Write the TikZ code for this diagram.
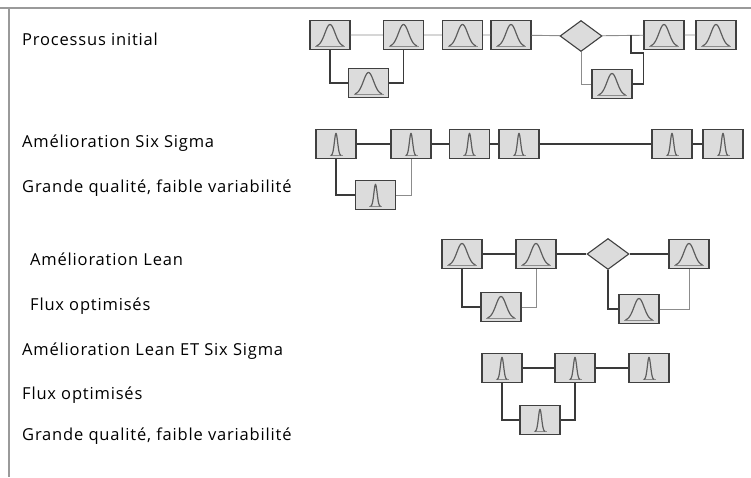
\documentclass[tikz,border=0pt]{standalone}
\usepackage{fontspec}
\setmainfont[LetterSpace=5]{Open Sans}
\usetikzlibrary{shapes.geometric}

\definecolor{boxfill}{HTML}{DCDCDC}
\definecolor{boxline}{HTML}{404040}
\definecolor{curvegrey}{HTML}{5E5E5E}
\definecolor{linkgrey}{HTML}{8C8C8C}
\definecolor{linkdark}{HTML}{3A3A3A}
\definecolor{framegrey}{HTML}{9A9A9A}

% bell curve inside a stage box: #1 = spread, #2 = half width
\newcommand{\bellpic}[2]{%
  \begin{scope}[shift={(path picture bounding box.center)}, x=1pt, y=-1pt]
    \draw[linkgrey, line width=0.8pt] (-#2-1.5,11.5) -- (#2+1.5,11.5);
    \draw[curvegrey, line width=1.2pt]
      plot[domain=-#2:#2, samples=41, smooth] ({\x}, {11.5-22*exp(-(\x/#1)^2)});
  \end{scope}}

\begin{document}
\begin{tikzpicture}[x=1pt, y=-1pt,% styles used in image code
stage/.style = {draw=boxline, fill=boxfill, line width=1.1pt,
                minimum width=40pt, minimum height=29pt,
                inner sep=0pt, node contents={}},
 wide/.style = {stage, path picture={\bellpic{7.2}{13.5}}},
narrow/.style = {stage, path picture={\bellpic{2.3}{5}}},
choice/.style = {diamond, draw=boxline, fill=boxfill, line width=1.1pt,
                 minimum width=42pt, minimum height=31pt,
                 inner sep=0pt, node contents={}},
  link/.style = {draw=linkgrey, line width=0.9pt},
 heavy/.style = {draw=linkdark, line width=1.4pt},
rowtext/.style = {anchor=base west, inner sep=0pt,
                 font=\fontsize{16.5}{18}\selectfont, text=black}
                    ]
	\useasboundingbox (0,0) rectangle (751,477);
	% frame
	\draw[framegrey, line width=1.2pt] (0,8) -- (751,8);
	\draw[framegrey, line width=1.2pt] (9,8) -- (9,477);

	% captions
	\node (t1) at (22,45)  [rowtext] {Processus initial};
	\node (t2) at (22,147) [rowtext] {Amélioration Six Sigma};
	\node (t3) at (22,192) [rowtext] {Grande qualité, faible variabilité};
	\node (t4) at (30,265) [rowtext] {Amélioration Lean};
	\node (t5) at (30,310) [rowtext] {Flux optimisés};
	\node (t6) at (22,355) [rowtext] {Amélioration Lean ET Six Sigma};
	\node (t7) at (22,399) [rowtext] {Flux optimisés};
	\node (t8) at (22,440) [rowtext] {Grande qualité, faible variabilité};

	% initial process
	\node (a1) at (330,35)   [wide];
	\node (a2) at (403.5,35) [wide];
	\node (a3) at (462.5,35) [wide];
	\node (a4) at (511,35)   [wide];
	\node (ad) at (581,36)   [choice];
	\node (a5) at (664,35)   [wide];
	\node (a6) at (716,35)   [wide];
	\node (a7) at (368.5,83) [wide];
	\node (a8) at (612,84)   [wide];
	\coordinate (aj) at (631,35);

	\draw[link] (a1) -- (a2) -- (a3) -- (a4) -- (ad) -- (a5) -- (a6);
	\draw[heavy] (a1.south) |- (a7.west);
	\draw[heavy] (a7.east) -| (a2.south);
	\draw[link] (ad.south) |- (a8.west);
	\draw[heavy] (a8.east) -| ++(11,-31) -| (aj);

	% six sigma
	\node (b1) at (336,144)   [narrow];
	\node (b2) at (411,144)   [narrow];
	\node (b3) at (469.5,144) [narrow];
	\node (b4) at (519,144)   [narrow];
	\node (b5) at (672,144)   [narrow];
	\node (b6) at (723,144)   [narrow];
	\node (b7) at (375.5,195) [narrow];

	\draw[heavy] (b1) -- (b2) -- (b3) -- (b4) -- (b5) -- (b6);
	\draw[heavy] (b1.south) |- (b7.west);
	\draw[link] (b7.east) -| (b2.south);

	% lean
	\node (c1) at (462,254) [wide];
	\node (c2) at (536,254) [wide];
	\node (cd) at (608,254) [choice];
	\node (c3) at (689,254) [wide];
	\node (c4) at (501,307) [wide];
	\node (c5) at (639,309) [wide];

	\draw[heavy] (c1) -- (c2) -- (cd) -- (c3);
	\draw[heavy] (c1.south) |- (c4.west);
	\draw[link] (c4.east) -| (c2.south);
	\draw[heavy] (cd.south) |- (c5.west);
	\draw[link] (c5.east) -| (c3.south);

	% lean and six sigma
	\node (d1) at (502,368) [narrow];
	\node (d2) at (575,368) [narrow];
	\node (d3) at (649,368) [narrow];
	\node (d4) at (540,420) [narrow];

	\draw[heavy] (d1) -- (d2) -- (d3);
	\draw[heavy] (d1.south) |- (d4.west);
	\draw[heavy] (d4.east) -| (d2.south);
\end{tikzpicture}
\end{document}
